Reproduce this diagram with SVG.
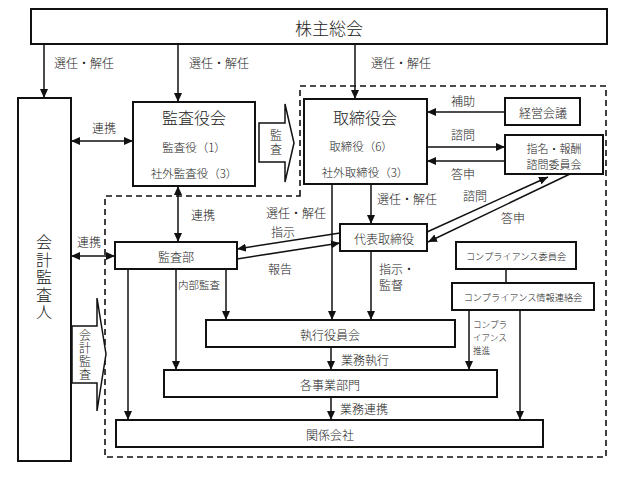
<svg xmlns="http://www.w3.org/2000/svg" width="626" height="484" viewBox="0 0 626 484">
<style>
text{font-family:"Noto Sans CJK JP","Liberation Serif",serif;fill:#222;text-anchor:middle;dominant-baseline:central;font-weight:300}
.box{fill:#fff;stroke:#111;stroke-width:2}
.ln{fill:none;stroke:#111;stroke-width:1.5}
.dash{fill:none;stroke:#111;stroke-width:1.6;stroke-dasharray:6 4}
.v{writing-mode:vertical-rl}
.t18{font-size:17px}
.t16{font-size:16px}
.t12{font-size:12px}
.t115{font-size:11px}
.t11{font-size:11.5px}
.t10{font-size:10.5px}
.t9{font-size:9.2px}
.t8{font-size:8.6px}
.l{text-anchor:start}
</style>
<defs>
<marker id="a" viewBox="0 0 9 8" refX="9" refY="4" markerWidth="9" markerHeight="8" markerUnits="userSpaceOnUse" orient="auto-start-reverse">
<path d="M0,0 L9,4 L0,8 z" fill="#111"/>
</marker>
</defs>
<rect width="626" height="484" fill="#fff"/>
<path class="dash" d="M300,196 V86 H606 V457 H105 V196 Z"/>
<g id="shareholders"><rect class="box" x="31" y="9" width="576" height="35"/><text class="t18" x="329" y="27">株主総会</text></g>
<g id="auditor"><rect class="box" x="18" y="98" width="53" height="363"/>
<text class="t16 v" x="44" y="278" style="letter-spacing:1.5px">会計監査人</text></g>
<g id="kansayakukai"><rect class="box" x="133" y="102" width="122" height="84"/>
<text class="t16" x="194" y="117">監査役会</text><text class="t11" x="194" y="147">監査役（1）</text><text class="t11" x="194" y="173">社外監査役（3）</text></g>
<g id="kansa-arrow"><polygon class="box" style="stroke-width:1.5" points="259,123 285,123 285,104 294,143 285,182 285,162 259,162"/>
<text class="t12 v" x="276" y="143" style="letter-spacing:2px">監査</text></g>
<g id="board"><rect class="box" x="304" y="99" width="123" height="85"/>
<text class="t16" x="365" y="117">取締役会</text><text class="t11" x="361" y="146">取締役（6）</text><text class="t11" x="365" y="172">社外取締役（3）</text></g>
<g id="keiei"><rect class="box" x="505" y="98" width="75" height="27"/><text class="t12" x="543" y="112">経営会議</text></g>
<g id="shimei"><rect class="box" x="505" y="135" width="98" height="39"/><text class="t115" x="554" y="148">指名・報酬</text><text class="t115" x="554" y="164">諮問委員会</text></g>
<g id="daihyo"><rect class="box" x="340" y="224" width="87" height="27"/><text class="t12" x="384" y="238">代表取締役</text></g>
<g id="kansabu"><rect class="box" x="115" y="242" width="122" height="27"/><text class="t12" x="176" y="256">監査部</text></g>
<g id="comp-iinkai"><rect class="box" x="456" y="242" width="120" height="27"/><text class="t9" x="516" y="256">コンプライアンス委員会</text></g>
<g id="comp-renraku"><rect class="box" x="452" y="283" width="142" height="27"/><text class="t9" x="523" y="297">コンプライアンス情報連絡会</text></g>
<g id="shikko"><rect class="box" x="206" y="320" width="249" height="27"/><text class="t12" x="330" y="334">執行役員会</text></g>
<g id="jigyobu"><rect class="box" x="164" y="370" width="333" height="27"/><text class="t12" x="330" y="384">各事業部門</text></g>
<g id="kankei"><rect class="box" x="116" y="420" width="427" height="27"/><text class="t12" x="330" y="434">関係会社</text></g>
<g id="kaikei-kansa"><polygon class="box" style="stroke-width:1.5" points="72,326 97,326 97,298 106,354 97,411 97,383 72,383"/>
<text class="t12 v" x="85" y="355" style="letter-spacing:1px">会計監査</text></g>
<g id="connectors">
<path class="ln" d="M44,44 V98" marker-end="url(#a)"/>
<path class="ln" d="M178,44 V102" marker-end="url(#a)"/>
<path class="ln" d="M355,44 V99" marker-end="url(#a)"/>
<path class="ln" d="M71,141 H133" marker-start="url(#a)" marker-end="url(#a)"/>
<path class="ln" d="M505,112 H427" marker-end="url(#a)"/>
<path class="ln" d="M427,147 H505" marker-end="url(#a)"/>
<path class="ln" d="M505,161 H427" marker-end="url(#a)"/>
<path class="ln" d="M427,232 L548,177" marker-end="url(#a)"/>
<path class="ln" d="M570,174 L428,242" marker-end="url(#a)"/>
<path class="ln" d="M178,186 V242" marker-start="url(#a)" marker-end="url(#a)"/>
<path class="ln" d="M71,256 H115" marker-start="url(#a)" marker-end="url(#a)"/>
<path class="ln" d="M340,233 L237,249" marker-end="url(#a)"/>
<path class="ln" d="M237,259 L340,243" marker-end="url(#a)"/>
<path class="ln" d="M332,184 V320" marker-end="url(#a)"/>
<path class="ln" d="M371,184 V224" marker-end="url(#a)"/>
<path class="ln" d="M371,251 V320" marker-end="url(#a)"/>
<path class="ln" d="M128,269 V420" marker-end="url(#a)"/>
<path class="ln" d="M176,269 V370" marker-end="url(#a)"/>
<path class="ln" d="M226,269 V320" marker-end="url(#a)"/>
<path class="ln" d="M331,347 V370" marker-end="url(#a)"/>
<path class="ln" d="M331,397 V420" marker-end="url(#a)"/>
<path class="ln" d="M506,269 V283"/>
<path class="ln" d="M469,310 V370" marker-end="url(#a)"/>
<path class="ln" d="M520,310 V420" marker-end="url(#a)"/>
</g>
<g id="labels">
<text class="t12" x="84" y="62">選任・解任</text>
<text class="t12" x="219" y="62">選任・解任</text>
<text class="t12" x="401" y="62">選任・解任</text>
<text class="t12" x="104" y="127">連携</text>
<text class="t12" x="463" y="100">補助</text>
<text class="t12" x="463" y="134">諮問</text>
<text class="t12" x="463" y="173">答申</text>
<text class="t12" x="475" y="195">諮問</text>
<text class="t12" x="513" y="217">答申</text>
<text class="t12" x="407" y="198">選任・解任</text>
<text class="t12" x="296" y="212">選任・解任</text>
<text class="t12" x="283" y="231">指示</text>
<text class="t12" x="280" y="268">報告</text>
<text class="t12" x="203" y="214">連携</text>
<text class="t12" x="89" y="241">連携</text>
<text class="t10" x="199" y="284">内部監査</text>
<text class="t12 l" x="379" y="268">指示・</text>
<text class="t12 l" x="379" y="284">監督</text>
<text class="t12 l" x="341" y="359">業務執行</text>
<text class="t12 l" x="340" y="408">業務連携</text>
<text class="t8 l" x="473" y="324">コンプラ</text>
<text class="t8 l" x="473" y="337">イアンス</text>
<text class="t8 l" x="473" y="350">推進</text>
</g>
</svg>
